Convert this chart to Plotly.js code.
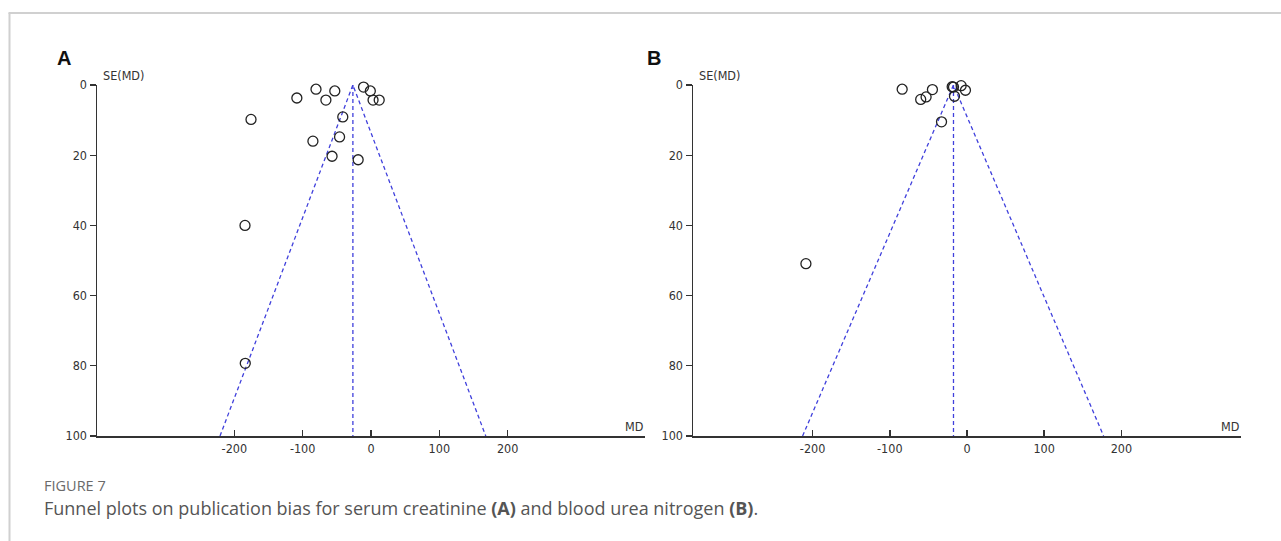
<!DOCTYPE html>
<html>
<head>
<meta charset="utf-8">
<script src="https://cdn.plot.ly/plotly-3.0.1.min.js"></script>
<style>
html,body{margin:0;padding:0;background:#fff;}
#chart{width:1281px;height:541px;}
</style>
</head>
<body>
<div id="chart"></div>
<script>
// Panel A: serum creatinine (MD, SE(MD))
const mdA = [-10.9, -80.5, -53, -1, -108.5, -66, 3, 12, -175.6, -41.3, -46, -85, -57, -18.8, -184.4, -184];
const seA = [0.6, 1.2, 1.7, 1.7, 3.7, 4.3, 4.3, 4.3, 9.8, 9.1, 14.8, 16, 20.3, 21.3, 40, 79.3];
// Panel B: blood urea nitrogen
const mdB = [-84, -44.8, -60, -53, -19.2, -17.5, -7.6, -2, -16.2, -33, -208.7];
const seB = [1.2, 1.3, 4.1, 3.4, 0.5, 0.6, 0.2, 1.5, 3.2, 10.5, 50.9];
// Funnel outlines (left bottom, apex, right bottom) and pooled estimate
const funnelA_x = [-221, -26.5, 168];
const funnelB_x = [-213, -17.5, 177];
const funnelSE = [100, 0, 100];
const pooledA = -26.5, pooledB = -17.5;
const seRange = [0, 100];
const xTicks = [-200, -100, 0, 100, 200];
const yTicks = [0, 20, 40, 60, 80, 100];

const lineColor = '#4040dc';
const dash = '4px,3px';
const tickFont = {family: 'DejaVu Sans Condensed, DejaVu Sans, sans-serif', size: 12.5, color: '#333'};

function pts(x, y, xa, ya) {
  return {x: x, y: y, xaxis: xa, yaxis: ya, type: 'scatter', mode: 'markers', cliponaxis: false,
    marker: {symbol: 'circle-open', size: 10, color: '#222', line: {width: 1.3, color: '#222'}},
    hoverinfo: 'x+y', showlegend: false};
}
function funnel(x, xa, ya) {
  return {x: x, y: funnelSE, xaxis: xa, yaxis: ya, type: 'scatter', mode: 'lines', cliponaxis: false,
    line: {color: lineColor, width: 1.3, dash: dash}, hoverinfo: 'skip', showlegend: false};
}
function vline(mu, xa, ya) {
  return {x: [mu, mu], y: seRange, xaxis: xa, yaxis: ya, type: 'scatter', mode: 'lines', cliponaxis: false,
    line: {color: lineColor, width: 1.3, dash: dash}, hoverinfo: 'skip', showlegend: false};
}

const data = [
  funnel(funnelA_x, 'x', 'y'), vline(pooledA, 'x', 'y'), pts(mdA, seA, 'x', 'y'),
  funnel(funnelB_x, 'x2', 'y2'), vline(pooledB, 'x2', 'y2'), pts(mdB, seB, 'x2', 'y2')
];

const W = 1281, H = 541;
const yDom = [(H - 436) / H, (H - 85) / H];
function xax(dom, range, anchor) {
  return {domain: dom, range: range, anchor: anchor, tickvals: xTicks, ticktext: xTicks.map(v => v < 0 ? '-' + Math.abs(v) : String(v)),
    ticks: 'inside', ticklen: 6, tickwidth: 1.4, tickcolor: '#333',
    showline: true, linecolor: '#333', linewidth: 1.5, showgrid: false, zeroline: false,
    tickfont: tickFont, fixedrange: true};
}
function yax(range, anchor) {
  return {domain: yDom, range: [100, 0], anchor: anchor, tickvals: yTicks,
    ticks: 'outside', ticklen: 6, tickwidth: 1.4, tickcolor: '#333',
    showline: true, linecolor: '#333', linewidth: 1.5, showgrid: false, zeroline: false,
    tickfont: tickFont, fixedrange: true};
}

const layout = {
  width: W, height: H,
  margin: {l: 0, r: 0, t: 0, b: 0},
  paper_bgcolor: '#fff', plot_bgcolor: 'rgba(0,0,0,0)',
  showlegend: false,
  xaxis: xax([97 / W, 645 / W], [-401, 401], 'y'),
  yaxis: yax(seRange, 'x'),
  xaxis2: xax([693 / W, 1241 / W], [-355, 355], 'y2'),
  yaxis2: yax(seRange, 'x2'),
  shapes: [
    {type: 'line', xref: 'paper', yref: 'paper', x0: 9.5 / W, x1: 9.5 / W, y0: 0, y1: (H - 13) / H, line: {color: '#d0d0d0', width: 2}},
    {type: 'line', xref: 'paper', yref: 'paper', x0: 8.5 / W, x1: 1, y0: (H - 13) / H, y1: (H - 13) / H, line: {color: '#d0d0d0', width: 2}}
  ],
  annotations: [
    {text: '<b>A</b>', xref: 'paper', yref: 'paper', x: 64 / W, y: (H - 58) / H, xanchor: 'center', yanchor: 'middle', showarrow: false,
      font: {family: 'Liberation Sans, Arial, sans-serif', size: 20, color: '#111'}},
    {text: '<b>B</b>', xref: 'paper', yref: 'paper', x: 654 / W, y: (H - 58) / H, xanchor: 'center', yanchor: 'middle', showarrow: false,
      font: {family: 'Liberation Sans, Arial, sans-serif', size: 20, color: '#111'}},
    {text: 'SE(MD)', xref: 'x domain', yref: 'y', x: 0, y: 0, xshift: 4, yshift: 0, xanchor: 'left', yanchor: 'bottom', showarrow: false, font: tickFont},
    {text: 'SE(MD)', xref: 'x2 domain', yref: 'y2', x: 0, y: 0, xshift: 4, yshift: 0, xanchor: 'left', yanchor: 'bottom', showarrow: false, font: tickFont},
    {text: 'MD', xref: 'x domain', yref: 'y', x: 1, y: 100, xanchor: 'right', yanchor: 'bottom', showarrow: false, font: tickFont},
    {text: 'MD', xref: 'x2 domain', yref: 'y2', x: 1, y: 100, xanchor: 'right', yanchor: 'bottom', showarrow: false, font: tickFont},
    {text: 'FIGURE 7', xref: 'paper', yref: 'paper', x: 42 / W, y: (H - 485) / H, xanchor: 'left', yanchor: 'middle', showarrow: false,
      font: {family: 'Open Sans, Lato, sans-serif', size: 14.5, color: '#6a6a6a'}},
    {text: 'Funnel plots on publication bias for serum creatinine <b>(A)</b> and blood urea nitrogen <b>(B)</b>.', xref: 'paper', yref: 'paper',
      x: 42 / W, y: (H - 508) / H, xanchor: 'left', yanchor: 'middle', showarrow: false,
      font: {family: 'Open Sans, Lato, sans-serif', size: 18, color: '#555'}}
  ]
};

Plotly.newPlot('chart', data, layout, {displayModeBar: false, staticPlot: true});
</script>
</body>
</html>
